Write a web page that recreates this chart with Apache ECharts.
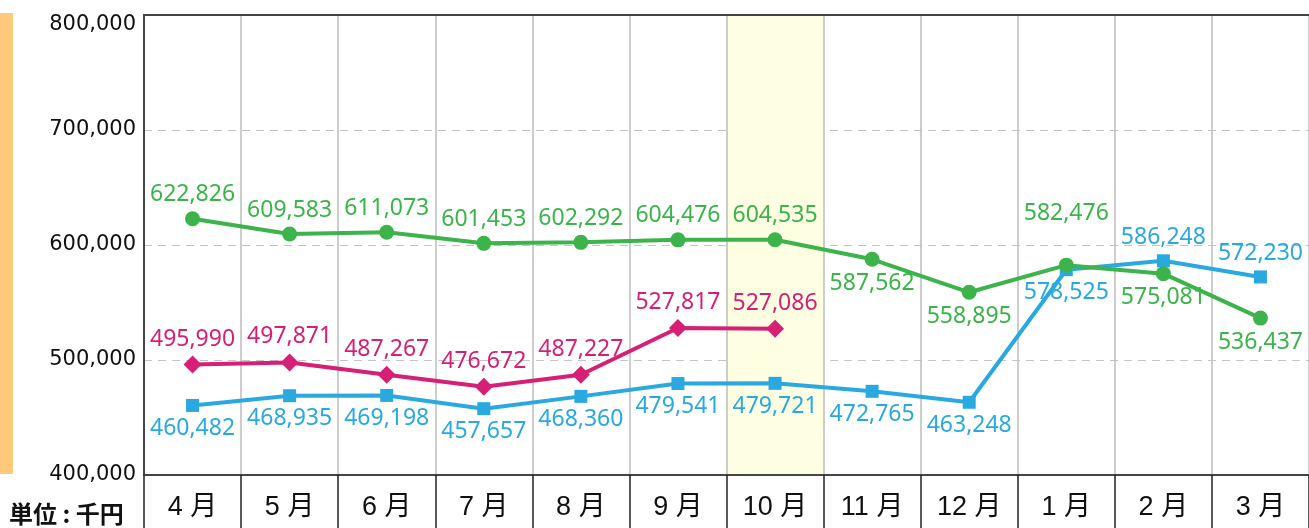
<!DOCTYPE html>
<html>
<head>
<meta charset="utf-8">
<script src="https://cdn.jsdelivr.net/npm/echarts@6/dist/echarts.min.js"></script>
<style>
html, body { margin: 0; padding: 0; background: #fff; }
#box { width: 1309px; height: 528px; }
</style>
</head>
<body>
<div id="box"></div>
<script>
// data
const months = ['4 月', '5 月', '6 月', '7 月', '8 月', '9 月', '10 月', '11 月', '12 月', '1 月', '2 月', '3 月'];
const yTicks = [400000, 500000, 600000, 700000, 800000];
const greenValues = [622826, 609583, 611073, 601453, 602292, 604476, 604535, 587562, 558895, 582476, 575081, 536437];
const blueValues = [460482, 468935, 469198, 457657, 468360, 479541, 479721, 472765, 463248, 578525, 586248, 572230];
const pinkValues = [495990, 497871, 487267, 476672, 487227, 527817, 527086, null, null, null, null, null];
const highlightMonth = '10 月';
const unitText = '単位 : 千円';

const GREEN = '#3cb44b';
const BLUE = '#2aa9e0';
const PINK = '#d71f75';
const fmt = v => v.toLocaleString('en-US');

// label tweaks (position only, by index)
function withLabels(values, below, lifted) {
    return values.map((v, i) => {
        if (v == null) return null;
        const item = { value: v };
        if (below.indexOf(i) >= 0) item.label = { position: 'bottom' };
        if (lifted && lifted[i]) item.label = Object.assign(item.label || {}, { offset: [0, lifted[i]] });
        return item;
    });
}

function lineSeries(name, values, color, symbol, size, z) {
    return {
        name: name,
        type: 'line',
        data: values,
        symbol: symbol,
        symbolSize: size,
        z: z,
        lineStyle: { width: 4, color: color },
        itemStyle: { color: color },
        label: {
            show: true,
            position: 'top',
            distance: 5,
            color: color,
            fontSize: 23,
            fontFamily: 'Noto Sans',
            formatter: p => fmt(p.value)
        }
    };
}

const chart = echarts.init(document.getElementById('box'));

chart.setOption({
    animation: false,
    grid: { left: 144, right: 0, top: 15, bottom: 53 },
    graphic: [
        {
            type: 'rect',
            left: 0, top: 13,
            shape: { width: 13, height: 461 },
            style: { fill: '#fec97a' }
        },
        {
            type: 'text',
            left: 9, top: 502,
            style: { text: unitText, fontSize: 24, fontWeight: 'bold', fontFamily: 'Noto Sans CJK JP', fill: '#111' }
        }
    ],
    xAxis: [
        {
            type: 'category',
            data: months,
            axisLine: { lineStyle: { color: '#444', width: 2 } },
            axisTick: { show: true, interval: 0, length: 56, lineStyle: { color: '#222', width: 1.5 } },
            axisLabel: {
                interval: 0, margin: 19, color: '#111', fontSize: 27,
                fontFamily: "'Liberation Sans', 'Noto Sans CJK JP'"
            },
            splitLine: { show: true, interval: 0, lineStyle: { color: '#bdbdbd', width: 1.5 } },
            splitArea: {
                show: true, interval: 0,
                areaStyle: { color: months.map(m => m === highlightMonth ? '#fefee3' : 'rgba(255,255,255,0)') }
            }
        },
        {
            type: 'category',
            data: months,
            position: 'top',
            axisLine: { lineStyle: { color: '#444', width: 2 } },
            axisTick: { show: false },
            axisLabel: { show: false }
        }
    ],
    yAxis: {
        type: 'value',
        min: yTicks[0],
        max: yTicks[yTicks.length - 1],
        interval: yTicks[1] - yTicks[0],
        axisLine: { show: true, lineStyle: { color: '#444', width: 2 } },
        axisTick: { show: false },
        axisLabel: {
            margin: 8, color: '#111', fontSize: 21, fontFamily: 'DejaVu Sans',
            formatter: v => v === yTicks[yTicks.length - 1] ? '{top|' + fmt(v) + '}' : fmt(v),
            rich: { top: { padding: [20, 0, 0, 0], fontSize: 21, fontFamily: 'DejaVu Sans', color: '#111' } }
        },
        splitLine: { lineStyle: { color: '#c4c4c4', type: [8, 6], width: 1 } }
    },
    series: [
        lineSeries('pink', withLabels(pinkValues, []), PINK, 'diamond', 18, 2),
        lineSeries('blue', withLabels(blueValues, [0, 1, 2, 3, 4, 5, 6, 7, 8, 9]), BLUE, 'rect', 13, 3),
        lineSeries('green', withLabels(greenValues, [7, 8, 10, 11], { 9: -28 }), GREEN, 'circle', 15, 4)
    ]
});
</script>
</body>
</html>
